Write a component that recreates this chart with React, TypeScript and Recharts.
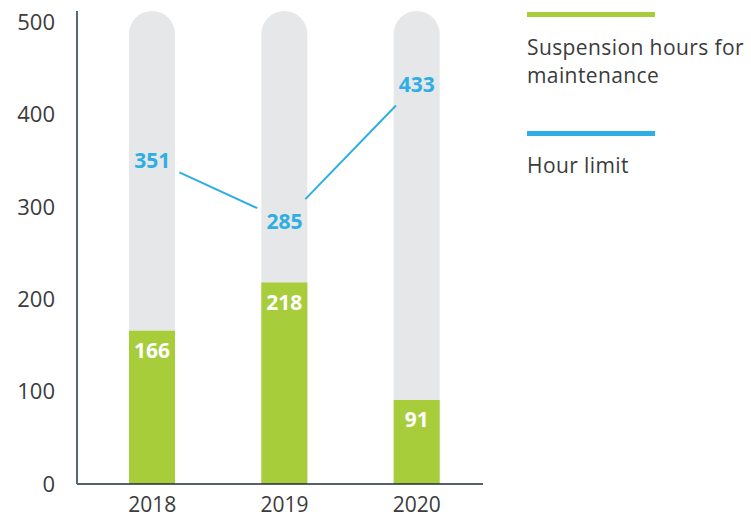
import React from 'react';
import { ComposedChart, Bar, Line, XAxis, YAxis, LabelList } from 'recharts';

const years = ['2018', '2019', '2020'];
const suspensionHours = [166, 218, 91];
const hourLimit = [351, 285, 433];
const yTicks = [0, 100, 200, 300, 400, 500];

const data = years.map((year, i) => ({
  year,
  suspension: suspensionHours[i],
  limit: hourLimit[i],
}));

const GREEN = '#a8cd3a';
const BLUE = '#2eaee3';
const GRAY = '#e6e7e9';
const TEXT = '#3b3b3b';
const FONT = '"Open Sans", sans-serif';

const LineSegmentDot = (props: any) => {
  const { cx, cy, index, points } = props;
  const next = points && points[index + 1];
  if (!next || cx == null || cy == null) return <g key={`seg-${index}`} />;
  const dx = next.x - cx;
  const dy = next.y - cy;
  const len = Math.sqrt(dx * dx + dy * dy);
  const ux = dx / len;
  const uy = dy / len;
  const trim = 30;
  return (
    <line
      key={`seg-${index}`}
      x1={cx + ux * trim}
      y1={cy + uy * trim}
      x2={next.x - ux * trim}
      y2={next.y - uy * trim}
      stroke={BLUE}
      strokeWidth={2}
    />
  );
};

const LimitLabel = (props: any) => {
  const { x, y, value } = props;
  return (
    <text
      x={x}
      y={y}
      textAnchor="middle"
      dominantBaseline="central"
      fill={BLUE}
      fontSize={21}
      fontWeight={700}
      fontFamily={FONT}
    >
      {value}
    </text>
  );
};

const LegendBlock = () => (
  <div
    style={{
      position: 'absolute',
      left: 527,
      top: 0,
      width: 224,
      fontFamily: FONT,
      color: TEXT,
      fontSize: 21,
      letterSpacing: 0.4,
      lineHeight: '28px',
    }}
  >
    <div style={{ width: 128, height: 5, background: GREEN, marginTop: 12 }} />
    <div style={{ marginTop: 16, whiteSpace: 'nowrap' }}>Suspension hours for<br />maintenance</div>
    <div style={{ width: 128, height: 5, background: BLUE, marginTop: 42 }} />
    <div style={{ marginTop: 15, whiteSpace: 'nowrap' }}>Hour limit</div>
  </div>
);

export default function App() {
  return (
    <div style={{ position: 'absolute', left: 0, top: 0, width: 751, height: 521, background: '#fff' }}>
      <ComposedChart
        width={751}
        height={521}
        data={data}
        margin={{ top: 11, right: 268, bottom: 0, left: 0 }}
      >
        <XAxis
          dataKey="year"
          height={37}
          padding={{ left: 9, right: 0 }}
          axisLine={{ stroke: '#1f2d3d', strokeWidth: 1.5 }}
          tickLine={false}
          tickSize={0}
          tickMargin={13}
          tick={{ fill: TEXT, fontSize: 21, fontFamily: FONT }}
        />
        <YAxis
          width={77}
          domain={[0, 512]}
          ticks={yTicks}
          axisLine={{ stroke: '#55687a', strokeWidth: 2 }}
          tickLine={false}
          tickSize={0}
          tickMargin={22}
          tick={{ fill: TEXT, fontSize: 22, fontFamily: FONT }}
        />
        <Bar
          dataKey="suspension"
          fill={GREEN}
          barSize={46}
          background={{ fill: GRAY, radius: [23, 23, 0, 0] } as any}
          isAnimationActive={false}
        >
          <LabelList
            dataKey="suspension"
            position="insideTop"
            offset={12}
            fill="#ffffff"
            fontSize={21}
            fontWeight={700}
            fontFamily={FONT}
          />
        </Bar>
        <Line
          dataKey="limit"
          stroke="none"
          dot={LineSegmentDot}
          activeDot={false}
          label={LimitLabel}
          isAnimationActive={false}
        />
      </ComposedChart>
      <LegendBlock />
    </div>
  );
}
